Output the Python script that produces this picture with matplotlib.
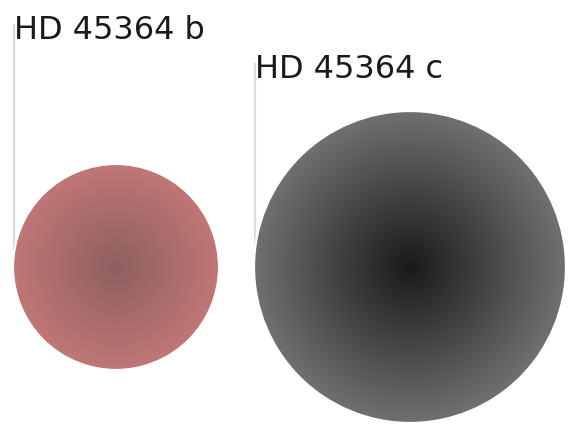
import numpy as np
import matplotlib
matplotlib.use('Agg')
import matplotlib.pyplot as plt
from matplotlib.colors import LinearSegmentedColormap
from matplotlib.patches import Circle

# planets, sizes in canvas pixels
names = ["HD 45364 b", "HD 45364 c"]
centers_x = [116, 410]
center_y = 268
radii = [103, 156]
label_y = [39, 78]
center_colors = ["#8f6060", "#1a1a1a"]
edge_colors = ["#c07676", "#707070"]

W, H = 575, 431
fig = plt.figure(figsize=(W / 100, H / 100), dpi=100)
ax = fig.add_axes([0, 0, 1, 1])
ax.set_xlim(0, W)
ax.set_ylim(H, 0)
ax.set_aspect("equal")
ax.axis("off")

for name, cx, r, ly, c0, c1 in zip(names, centers_x, radii, label_y, center_colors, edge_colors):
    left = cx - r
    # leader line from the label down to the planet
    ax.plot([left + 1, left + 1], [ly - 14, center_y], color="#dcdcdc", lw=1.6,
            solid_capstyle="butt", zorder=1)
    ax.text(left + 0.5, ly, name, fontsize=23, color="#1a1a1a",
            ha="left", va="baseline", zorder=5)

    # radial gradient
    n = 400
    xs = np.linspace(cx - r, cx + r, n)
    ys = np.linspace(center_y - r, center_y + r, n)
    xx, yy = np.meshgrid(xs, ys)
    d = np.clip(np.hypot(xx - cx, yy - center_y) / r, 0, 1)
    cmap = LinearSegmentedColormap.from_list(name, [c0, c1])
    im = ax.imshow(d, cmap=cmap, vmin=0, vmax=1,
                   extent=[cx - r, cx + r, center_y + r, center_y - r],
                   interpolation="bilinear", zorder=2)
    clip = Circle((cx, center_y), r, transform=ax.transData)
    im.set_clip_path(clip)
    ax.add_patch(Circle((cx, center_y), r, facecolor="none", edgecolor="white",
                        lw=1.6, zorder=3))

fig.savefig("out.png", dpi=100)
